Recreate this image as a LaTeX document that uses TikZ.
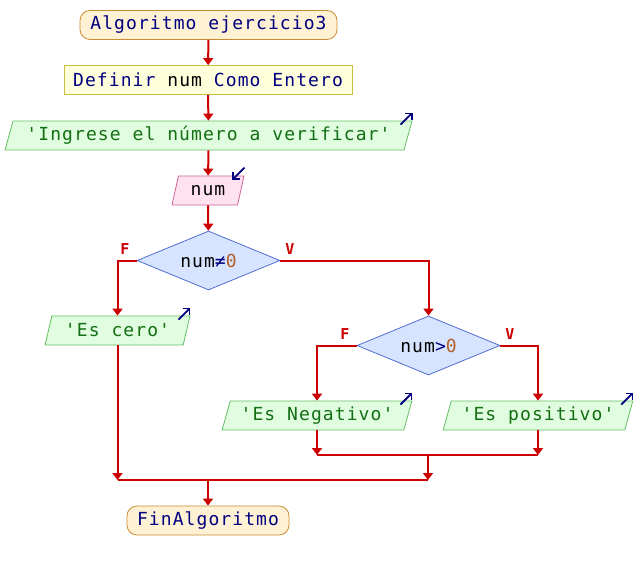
\documentclass[tikz,border=0pt]{standalone}
\usepackage{fontspec}
\setmonofont{DejaVu Sans Mono}[LetterSpace=6]
\newfontfamily\flagfont{DejaVu Sans Mono}
\usetikzlibrary{shapes.geometric,arrows.meta}
\definecolor{flow}{RGB}{204,0,0}
\definecolor{kw}{RGB}{0,0,128}
\definecolor{str}{RGB}{20,110,20}
\definecolor{numc}{RGB}{180,95,40}
\definecolor{termfill}{RGB}{255,241,212}
\definecolor{termdraw}{RGB}{200,140,50}
\definecolor{procfill}{RGB}{255,255,220}
\definecolor{procdraw}{RGB}{200,190,70}
\definecolor{outfill}{RGB}{224,253,224}
\definecolor{outdraw}{RGB}{100,190,100}
\definecolor{infill}{RGB}{255,226,240}
\definecolor{indraw}{RGB}{205,100,150}
\definecolor{decfill}{RGB}{214,228,255}
\definecolor{decdraw}{RGB}{80,110,210}
\newcommand{\kwd}[1]{\textcolor{kw}{#1}}
\newcommand{\strg}[1]{\textcolor{str}{#1}}
\newcommand{\nmb}[1]{\textcolor{numc}{#1}}
\tikzset{
  base/.style={font=\ttfamily\fontsize{18}{21}\selectfont, inner sep=0pt, line width=0.8pt},
  term/.style={base, rounded corners=10pt, draw=termdraw, fill=termfill, minimum height=29pt},
  proc/.style={base, draw=procdraw, fill=procfill, minimum height=29pt},
  outbox/.style={base, trapezium, trapezium left angle=68, trapezium right angle=112,
    trapezium stretches=true, draw=outdraw, fill=outfill, minimum height=29pt},
  inbox/.style={base, trapezium, trapezium left angle=70, trapezium right angle=110,
    trapezium stretches=true, draw=indraw, fill=infill, minimum height=29pt},
  decision/.style={base, diamond, aspect=2.4, draw=decdraw, fill=decfill},
  link/.style={draw=flow, line width=2pt},
  flowarrow/.style={link, -{Triangle[width=10pt,length=7pt]}},
  flag/.style={text=flow, font=\flagfont\bfseries\fontsize{15}{17}\selectfont, inner sep=0pt},
  iconarrow/.style={draw=kw, line width=1.8pt, -{Straight Barb[width=9pt,length=4.5pt]}},
}
\begin{document}
\begin{tikzpicture}[x=1pt,y=-1pt]
\useasboundingbox (0,0) rectangle (638,570);

% blocks
\node[term, minimum width=257pt] (start) at (208.5,25) {\kwd{Algoritmo ejercicio3}};
\node[proc, minimum width=288pt] (def) at (208,80) {\kwd{Definir} num \kwd{Como Entero}};
\node[outbox, minimum width=407pt] (ask) at (208.5,135.5) {\strg{'Ingrese el número a verificar'}};
\node[inbox, minimum width=72pt] (read) at (208,190.5) {num};
\node[decision, minimum width=143pt, minimum height=59pt] (d1) at (208.5,260.5) {num\kwd{≠}\nmb{0}};
\node[outbox, minimum width=145pt] (zero) at (117.5,330.5) {\strg{'Es cero'}};
\node[decision, minimum width=143pt, minimum height=59pt] (d2) at (428.5,345.5) {num\kwd{>}\nmb{0}};
\node[outbox, minimum width=190pt] (neg) at (317,415.5) {\strg{'Es Negativo'}};
\node[outbox, minimum width=190pt] (pos) at (538,415.5) {\strg{'Es positivo'}};
\node[term, minimum width=162pt] (fin) at (208,520.5) {\kwd{FinAlgoritmo}};

% input/output markers
\draw[iconarrow] ([xshift=-12pt,yshift=-4pt]ask.top right corner) -- ++(12pt,12pt);
\draw[iconarrow] ([yshift=8pt]read.top right corner) -- ++(-12pt,-12pt);
\draw[iconarrow] ([xshift=-12pt,yshift=-4pt]zero.top right corner) -- ++(12pt,12pt);
\draw[iconarrow] ([xshift=-12pt,yshift=-4pt]neg.top right corner) -- ++(12pt,12pt);
\draw[iconarrow] ([xshift=-12pt,yshift=-4pt]pos.top right corner) -- ++(12pt,12pt);

% junction points
\coordinate (j2) at (428,455);
\coordinate (j1) at (428,480);

% main flow
\draw[flowarrow] (start) -- (def);
\draw[flowarrow] (def) -- (ask);
\draw[flowarrow] (ask) -- (read);
\draw[flowarrow] (read) -- (d1);
\draw[flowarrow] (d1.west) -| (zero.north);
\draw[flowarrow] (d1.east) -| (d2.north);
\draw[flowarrow] (d2.west) -| (neg.north);
\draw[flowarrow] (d2.east) -| (pos.north);

% merging branches
\draw[flowarrow] (neg.south) -- (neg.south |- j2);
\draw[flowarrow] (pos.south) -- (pos.south |- j2);
\draw[link] (neg.south |- j2) -- (pos.south |- j2);
\draw[flowarrow] (j2) -- (j1);
\draw[flowarrow] (zero.south) -- (zero.south |- j1);
\draw[link] (zero.south |- j1) -- (j1);
\draw[flowarrow] (fin.north |- j1) -- (fin.north);

% branch flags
\node[flag] (f1) at (125,249) {F};
\node[flag] (v1) at (290,249) {V};
\node[flag] (f2) at (345,334) {F};
\node[flag] (v2) at (510,334) {V};
\end{tikzpicture}
\end{document}
